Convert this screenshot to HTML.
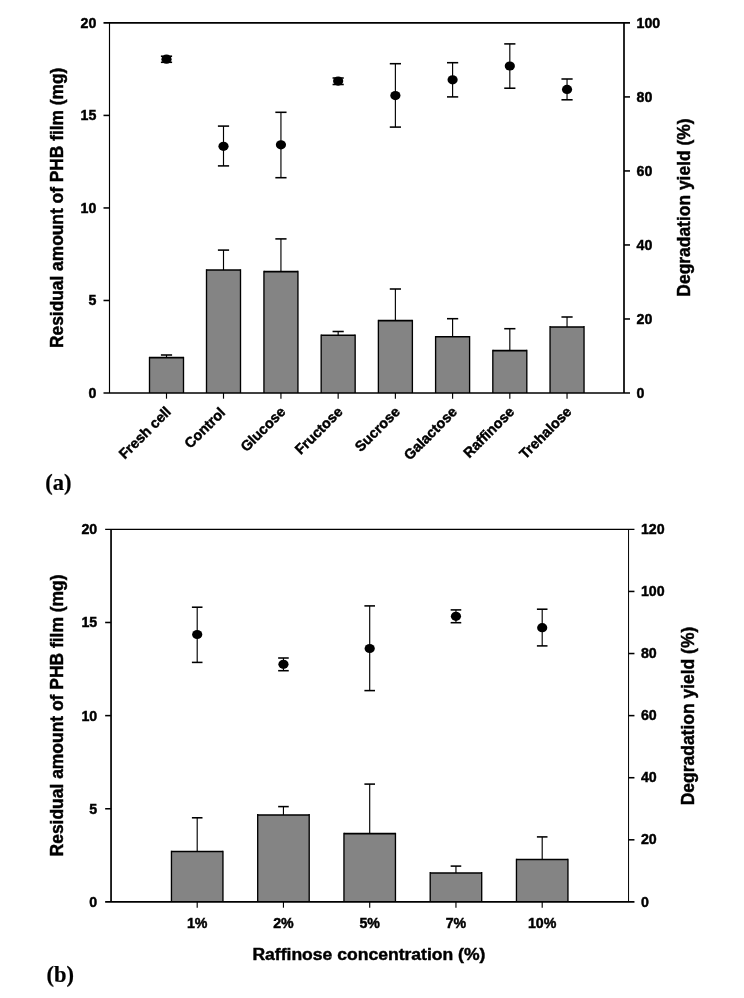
<!DOCTYPE html>
<html><head><meta charset="utf-8"><title>Figure</title>
<style>html,body{margin:0;padding:0;background:#fff}svg{display:block}</style>
</head><body>
<svg width="744" height="998" viewBox="0 0 744 998">
<rect width="744" height="998" fill="#fff"/>
<line x1="166.50" y1="357.60" x2="166.50" y2="355.00" stroke="#000" stroke-width="1.15"/>
<line x1="160.90" y1="355.00" x2="172.10" y2="355.00" stroke="#000" stroke-width="1.55"/>
<rect x="149.50" y="357.60" width="34.00" height="35.40" fill="#848484"/>
<line x1="149.50" y1="356.83" x2="149.50" y2="393.00" stroke="#000" stroke-width="1.35"/>
<line x1="183.50" y1="356.83" x2="183.50" y2="393.00" stroke="#000" stroke-width="1.35"/>
<line x1="149.50" y1="357.60" x2="183.50" y2="357.60" stroke="#000" stroke-width="1.55"/>
<line x1="223.50" y1="270.00" x2="223.50" y2="250.10" stroke="#000" stroke-width="1.15"/>
<line x1="217.90" y1="250.10" x2="229.10" y2="250.10" stroke="#000" stroke-width="1.55"/>
<rect x="206.50" y="270.00" width="34.00" height="123.00" fill="#848484"/>
<line x1="206.50" y1="269.23" x2="206.50" y2="393.00" stroke="#000" stroke-width="1.35"/>
<line x1="240.50" y1="269.23" x2="240.50" y2="393.00" stroke="#000" stroke-width="1.35"/>
<line x1="206.50" y1="270.00" x2="240.50" y2="270.00" stroke="#000" stroke-width="1.55"/>
<line x1="280.94" y1="271.60" x2="280.94" y2="238.90" stroke="#000" stroke-width="1.15"/>
<line x1="275.34" y1="238.90" x2="286.54" y2="238.90" stroke="#000" stroke-width="1.55"/>
<rect x="263.94" y="271.60" width="34.00" height="121.40" fill="#848484"/>
<line x1="263.94" y1="270.83" x2="263.94" y2="393.00" stroke="#000" stroke-width="1.35"/>
<line x1="297.94" y1="270.83" x2="297.94" y2="393.00" stroke="#000" stroke-width="1.35"/>
<line x1="263.94" y1="271.60" x2="297.94" y2="271.60" stroke="#000" stroke-width="1.55"/>
<line x1="338.16" y1="335.30" x2="338.16" y2="331.50" stroke="#000" stroke-width="1.15"/>
<line x1="332.56" y1="331.50" x2="343.76" y2="331.50" stroke="#000" stroke-width="1.55"/>
<rect x="321.16" y="335.30" width="34.00" height="57.70" fill="#848484"/>
<line x1="321.16" y1="334.53" x2="321.16" y2="393.00" stroke="#000" stroke-width="1.35"/>
<line x1="355.16" y1="334.53" x2="355.16" y2="393.00" stroke="#000" stroke-width="1.35"/>
<line x1="321.16" y1="335.30" x2="355.16" y2="335.30" stroke="#000" stroke-width="1.55"/>
<line x1="395.38" y1="320.60" x2="395.38" y2="289.00" stroke="#000" stroke-width="1.15"/>
<line x1="389.78" y1="289.00" x2="400.98" y2="289.00" stroke="#000" stroke-width="1.55"/>
<rect x="378.38" y="320.60" width="34.00" height="72.40" fill="#848484"/>
<line x1="378.38" y1="319.83" x2="378.38" y2="393.00" stroke="#000" stroke-width="1.35"/>
<line x1="412.38" y1="319.83" x2="412.38" y2="393.00" stroke="#000" stroke-width="1.35"/>
<line x1="378.38" y1="320.60" x2="412.38" y2="320.60" stroke="#000" stroke-width="1.55"/>
<line x1="452.60" y1="336.80" x2="452.60" y2="318.70" stroke="#000" stroke-width="1.15"/>
<line x1="447.00" y1="318.70" x2="458.20" y2="318.70" stroke="#000" stroke-width="1.55"/>
<rect x="435.60" y="336.80" width="34.00" height="56.20" fill="#848484"/>
<line x1="435.60" y1="336.03" x2="435.60" y2="393.00" stroke="#000" stroke-width="1.35"/>
<line x1="469.60" y1="336.03" x2="469.60" y2="393.00" stroke="#000" stroke-width="1.35"/>
<line x1="435.60" y1="336.80" x2="469.60" y2="336.80" stroke="#000" stroke-width="1.55"/>
<line x1="509.82" y1="350.60" x2="509.82" y2="328.70" stroke="#000" stroke-width="1.15"/>
<line x1="504.22" y1="328.70" x2="515.42" y2="328.70" stroke="#000" stroke-width="1.55"/>
<rect x="492.82" y="350.60" width="34.00" height="42.40" fill="#848484"/>
<line x1="492.82" y1="349.83" x2="492.82" y2="393.00" stroke="#000" stroke-width="1.35"/>
<line x1="526.82" y1="349.83" x2="526.82" y2="393.00" stroke="#000" stroke-width="1.35"/>
<line x1="492.82" y1="350.60" x2="526.82" y2="350.60" stroke="#000" stroke-width="1.55"/>
<line x1="567.04" y1="326.90" x2="567.04" y2="317.00" stroke="#000" stroke-width="1.15"/>
<line x1="561.44" y1="317.00" x2="572.64" y2="317.00" stroke="#000" stroke-width="1.55"/>
<rect x="550.04" y="326.90" width="34.00" height="66.10" fill="#848484"/>
<line x1="550.04" y1="326.12" x2="550.04" y2="393.00" stroke="#000" stroke-width="1.35"/>
<line x1="584.04" y1="326.12" x2="584.04" y2="393.00" stroke="#000" stroke-width="1.35"/>
<line x1="550.04" y1="326.90" x2="584.04" y2="326.90" stroke="#000" stroke-width="1.55"/>
<line x1="166.50" y1="56.20" x2="166.50" y2="62.30" stroke="#000" stroke-width="1.15"/>
<line x1="160.90" y1="56.20" x2="172.10" y2="56.20" stroke="#000" stroke-width="1.55"/>
<line x1="160.90" y1="62.30" x2="172.10" y2="62.30" stroke="#000" stroke-width="1.55"/>
<ellipse cx="166.50" cy="59.20" rx="5.1" ry="4.6" fill="#000"/>
<line x1="223.50" y1="126.10" x2="223.50" y2="165.90" stroke="#000" stroke-width="1.15"/>
<line x1="217.90" y1="126.10" x2="229.10" y2="126.10" stroke="#000" stroke-width="1.55"/>
<line x1="217.90" y1="165.90" x2="229.10" y2="165.90" stroke="#000" stroke-width="1.55"/>
<ellipse cx="223.50" cy="146.30" rx="5.1" ry="4.6" fill="#000"/>
<line x1="280.94" y1="112.30" x2="280.94" y2="177.70" stroke="#000" stroke-width="1.15"/>
<line x1="275.34" y1="112.30" x2="286.54" y2="112.30" stroke="#000" stroke-width="1.55"/>
<line x1="275.34" y1="177.70" x2="286.54" y2="177.70" stroke="#000" stroke-width="1.55"/>
<ellipse cx="280.94" cy="144.80" rx="5.1" ry="4.6" fill="#000"/>
<line x1="338.16" y1="78.00" x2="338.16" y2="84.50" stroke="#000" stroke-width="1.15"/>
<line x1="332.56" y1="78.00" x2="343.76" y2="78.00" stroke="#000" stroke-width="1.55"/>
<line x1="332.56" y1="84.50" x2="343.76" y2="84.50" stroke="#000" stroke-width="1.55"/>
<ellipse cx="338.16" cy="81.10" rx="5.1" ry="4.6" fill="#000"/>
<line x1="395.38" y1="63.70" x2="395.38" y2="127.10" stroke="#000" stroke-width="1.15"/>
<line x1="389.78" y1="63.70" x2="400.98" y2="63.70" stroke="#000" stroke-width="1.55"/>
<line x1="389.78" y1="127.10" x2="400.98" y2="127.10" stroke="#000" stroke-width="1.55"/>
<ellipse cx="395.38" cy="95.60" rx="5.1" ry="4.6" fill="#000"/>
<line x1="452.60" y1="62.70" x2="452.60" y2="96.90" stroke="#000" stroke-width="1.15"/>
<line x1="447.00" y1="62.70" x2="458.20" y2="62.70" stroke="#000" stroke-width="1.55"/>
<line x1="447.00" y1="96.90" x2="458.20" y2="96.90" stroke="#000" stroke-width="1.55"/>
<ellipse cx="452.60" cy="79.80" rx="5.1" ry="4.6" fill="#000"/>
<line x1="509.82" y1="43.90" x2="509.82" y2="88.20" stroke="#000" stroke-width="1.15"/>
<line x1="504.22" y1="43.90" x2="515.42" y2="43.90" stroke="#000" stroke-width="1.55"/>
<line x1="504.22" y1="88.20" x2="515.42" y2="88.20" stroke="#000" stroke-width="1.55"/>
<ellipse cx="509.82" cy="66.00" rx="5.1" ry="4.6" fill="#000"/>
<line x1="567.04" y1="79.00" x2="567.04" y2="99.80" stroke="#000" stroke-width="1.15"/>
<line x1="561.44" y1="79.00" x2="572.64" y2="79.00" stroke="#000" stroke-width="1.55"/>
<line x1="561.44" y1="99.80" x2="572.64" y2="99.80" stroke="#000" stroke-width="1.55"/>
<ellipse cx="567.04" cy="89.40" rx="5.1" ry="4.6" fill="#000"/>
<line x1="109.50" y1="22.90" x2="109.50" y2="393.00" stroke="#000" stroke-width="1.15"/>
<line x1="624.00" y1="22.90" x2="624.00" y2="393.00" stroke="#000" stroke-width="1.7"/>
<line x1="103.50" y1="22.90" x2="630.00" y2="22.90" stroke="#000" stroke-width="1.7"/>
<line x1="103.50" y1="393.00" x2="630.00" y2="393.00" stroke="#000" stroke-width="1.6"/>
<text x="96.40" y="397.65" font-size="14.2" font-weight="bold" text-anchor="end" stroke="#000" stroke-width="0.45" font-family='"Liberation Sans", Arial, sans-serif'>0</text>
<line x1="103.50" y1="300.48" x2="109.50" y2="300.48" stroke="#000" stroke-width="1.55"/>
<text x="96.40" y="305.12" font-size="14.2" font-weight="bold" text-anchor="end" stroke="#000" stroke-width="0.45" font-family='"Liberation Sans", Arial, sans-serif'>5</text>
<line x1="103.50" y1="207.95" x2="109.50" y2="207.95" stroke="#000" stroke-width="1.55"/>
<text x="96.40" y="212.60" font-size="14.2" font-weight="bold" text-anchor="end" stroke="#000" stroke-width="0.45" font-family='"Liberation Sans", Arial, sans-serif'>10</text>
<line x1="103.50" y1="115.42" x2="109.50" y2="115.42" stroke="#000" stroke-width="1.55"/>
<text x="96.40" y="120.07" font-size="14.2" font-weight="bold" text-anchor="end" stroke="#000" stroke-width="0.45" font-family='"Liberation Sans", Arial, sans-serif'>15</text>
<text x="96.40" y="27.55" font-size="14.2" font-weight="bold" text-anchor="end" stroke="#000" stroke-width="0.45" font-family='"Liberation Sans", Arial, sans-serif'>20</text>
<text x="636.50" y="397.60" font-size="14.2" font-weight="bold" text-anchor="start" stroke="#000" stroke-width="0.45" font-family='"Liberation Sans", Arial, sans-serif'>0</text>
<line x1="624.00" y1="318.98" x2="630.00" y2="318.98" stroke="#000" stroke-width="1.55"/>
<text x="636.50" y="323.58" font-size="14.2" font-weight="bold" text-anchor="start" stroke="#000" stroke-width="0.45" font-family='"Liberation Sans", Arial, sans-serif'>20</text>
<line x1="624.00" y1="244.96" x2="630.00" y2="244.96" stroke="#000" stroke-width="1.55"/>
<text x="636.50" y="249.56" font-size="14.2" font-weight="bold" text-anchor="start" stroke="#000" stroke-width="0.45" font-family='"Liberation Sans", Arial, sans-serif'>40</text>
<line x1="624.00" y1="170.94" x2="630.00" y2="170.94" stroke="#000" stroke-width="1.55"/>
<text x="636.50" y="175.54" font-size="14.2" font-weight="bold" text-anchor="start" stroke="#000" stroke-width="0.45" font-family='"Liberation Sans", Arial, sans-serif'>60</text>
<line x1="624.00" y1="96.92" x2="630.00" y2="96.92" stroke="#000" stroke-width="1.55"/>
<text x="636.50" y="101.52" font-size="14.2" font-weight="bold" text-anchor="start" stroke="#000" stroke-width="0.45" font-family='"Liberation Sans", Arial, sans-serif'>80</text>
<text x="636.50" y="27.50" font-size="14.2" font-weight="bold" text-anchor="start" stroke="#000" stroke-width="0.45" font-family='"Liberation Sans", Arial, sans-serif'>100</text>
<line x1="166.50" y1="393.00" x2="166.50" y2="398.70" stroke="#000" stroke-width="1.15"/>
<text x="171.90" y="412.60" font-size="14.3" font-weight="bold" text-anchor="end" stroke="#000" stroke-width="0.45" font-family='"Liberation Sans", Arial, sans-serif' transform="rotate(-45 171.90 412.60)">Fresh cell</text>
<line x1="223.50" y1="393.00" x2="223.50" y2="398.70" stroke="#000" stroke-width="1.15"/>
<text x="226.20" y="413.40" font-size="14.3" font-weight="bold" text-anchor="end" stroke="#000" stroke-width="0.45" font-family='"Liberation Sans", Arial, sans-serif' transform="rotate(-45 226.20 413.40)">Control</text>
<line x1="280.94" y1="393.00" x2="280.94" y2="398.70" stroke="#000" stroke-width="1.15"/>
<text x="286.34" y="412.60" font-size="14.3" font-weight="bold" text-anchor="end" stroke="#000" stroke-width="0.45" font-family='"Liberation Sans", Arial, sans-serif' transform="rotate(-45 286.34 412.60)">Glucose</text>
<line x1="338.16" y1="393.00" x2="338.16" y2="398.70" stroke="#000" stroke-width="1.15"/>
<text x="343.56" y="412.60" font-size="14.3" font-weight="bold" text-anchor="end" stroke="#000" stroke-width="0.45" font-family='"Liberation Sans", Arial, sans-serif' transform="rotate(-45 343.56 412.60)">Fructose</text>
<line x1="395.38" y1="393.00" x2="395.38" y2="398.70" stroke="#000" stroke-width="1.15"/>
<text x="400.78" y="412.60" font-size="14.3" font-weight="bold" text-anchor="end" stroke="#000" stroke-width="0.45" font-family='"Liberation Sans", Arial, sans-serif' transform="rotate(-45 400.78 412.60)">Sucrose</text>
<line x1="452.60" y1="393.00" x2="452.60" y2="398.70" stroke="#000" stroke-width="1.15"/>
<text x="458.00" y="412.60" font-size="14.3" font-weight="bold" text-anchor="end" stroke="#000" stroke-width="0.45" font-family='"Liberation Sans", Arial, sans-serif' transform="rotate(-45 458.00 412.60)">Galactose</text>
<line x1="509.82" y1="393.00" x2="509.82" y2="398.70" stroke="#000" stroke-width="1.15"/>
<text x="515.22" y="412.60" font-size="14.3" font-weight="bold" text-anchor="end" stroke="#000" stroke-width="0.45" font-family='"Liberation Sans", Arial, sans-serif' transform="rotate(-45 515.22 412.60)">Raffinose</text>
<line x1="567.04" y1="393.00" x2="567.04" y2="398.70" stroke="#000" stroke-width="1.15"/>
<text x="572.44" y="412.60" font-size="14.3" font-weight="bold" text-anchor="end" stroke="#000" stroke-width="0.45" font-family='"Liberation Sans", Arial, sans-serif' transform="rotate(-45 572.44 412.60)">Trehalose</text>
<text x="63.00" y="207.80" font-size="17.7" font-weight="bold" text-anchor="middle" stroke="#000" stroke-width="0.45" font-family='"Liberation Sans", Arial, sans-serif' transform="rotate(-90 63.00 207.80)" textLength="280.4" lengthAdjust="spacingAndGlyphs">Residual amount of PHB film (mg)</text>
<text x="689.80" y="207.50" font-size="17.7" font-weight="bold" text-anchor="middle" stroke="#000" stroke-width="0.45" font-family='"Liberation Sans", Arial, sans-serif' transform="rotate(-90 689.80 207.50)" textLength="178.3" lengthAdjust="spacingAndGlyphs">Degradation yield (%)</text>
<text x="45.20" y="489.80" font-size="22.5" font-weight="bold" text-anchor="start" stroke="#000" stroke-width="0.2" font-family='"Liberation Serif", "Times New Roman", serif'>(a)</text>
<line x1="197.20" y1="851.50" x2="197.20" y2="817.80" stroke="#000" stroke-width="1.15"/>
<line x1="191.90" y1="817.80" x2="202.50" y2="817.80" stroke="#000" stroke-width="1.55"/>
<rect x="171.45" y="851.50" width="51.50" height="50.40" fill="#848484"/>
<line x1="171.45" y1="850.73" x2="171.45" y2="901.90" stroke="#000" stroke-width="1.35"/>
<line x1="222.95" y1="850.73" x2="222.95" y2="901.90" stroke="#000" stroke-width="1.35"/>
<line x1="171.45" y1="851.50" x2="222.95" y2="851.50" stroke="#000" stroke-width="1.55"/>
<line x1="283.45" y1="814.90" x2="283.45" y2="806.60" stroke="#000" stroke-width="1.15"/>
<line x1="278.15" y1="806.60" x2="288.75" y2="806.60" stroke="#000" stroke-width="1.55"/>
<rect x="257.70" y="814.90" width="51.50" height="87.00" fill="#848484"/>
<line x1="257.70" y1="814.12" x2="257.70" y2="901.90" stroke="#000" stroke-width="1.35"/>
<line x1="309.20" y1="814.12" x2="309.20" y2="901.90" stroke="#000" stroke-width="1.35"/>
<line x1="257.70" y1="814.90" x2="309.20" y2="814.90" stroke="#000" stroke-width="1.55"/>
<line x1="369.70" y1="833.60" x2="369.70" y2="784.10" stroke="#000" stroke-width="1.15"/>
<line x1="364.40" y1="784.10" x2="375.00" y2="784.10" stroke="#000" stroke-width="1.55"/>
<rect x="343.95" y="833.60" width="51.50" height="68.30" fill="#848484"/>
<line x1="343.95" y1="832.83" x2="343.95" y2="901.90" stroke="#000" stroke-width="1.35"/>
<line x1="395.45" y1="832.83" x2="395.45" y2="901.90" stroke="#000" stroke-width="1.35"/>
<line x1="343.95" y1="833.60" x2="395.45" y2="833.60" stroke="#000" stroke-width="1.55"/>
<line x1="455.95" y1="872.90" x2="455.95" y2="866.10" stroke="#000" stroke-width="1.15"/>
<line x1="450.65" y1="866.10" x2="461.25" y2="866.10" stroke="#000" stroke-width="1.55"/>
<rect x="430.20" y="872.90" width="51.50" height="29.00" fill="#848484"/>
<line x1="430.20" y1="872.12" x2="430.20" y2="901.90" stroke="#000" stroke-width="1.35"/>
<line x1="481.70" y1="872.12" x2="481.70" y2="901.90" stroke="#000" stroke-width="1.35"/>
<line x1="430.20" y1="872.90" x2="481.70" y2="872.90" stroke="#000" stroke-width="1.55"/>
<line x1="542.20" y1="859.50" x2="542.20" y2="836.90" stroke="#000" stroke-width="1.15"/>
<line x1="536.90" y1="836.90" x2="547.50" y2="836.90" stroke="#000" stroke-width="1.55"/>
<rect x="516.45" y="859.50" width="51.50" height="42.40" fill="#848484"/>
<line x1="516.45" y1="858.73" x2="516.45" y2="901.90" stroke="#000" stroke-width="1.35"/>
<line x1="567.95" y1="858.73" x2="567.95" y2="901.90" stroke="#000" stroke-width="1.35"/>
<line x1="516.45" y1="859.50" x2="567.95" y2="859.50" stroke="#000" stroke-width="1.55"/>
<line x1="197.20" y1="607.20" x2="197.20" y2="662.40" stroke="#000" stroke-width="1.15"/>
<line x1="191.90" y1="607.20" x2="202.50" y2="607.20" stroke="#000" stroke-width="1.55"/>
<line x1="191.90" y1="662.40" x2="202.50" y2="662.40" stroke="#000" stroke-width="1.55"/>
<ellipse cx="197.20" cy="634.50" rx="5.1" ry="4.6" fill="#000"/>
<line x1="283.45" y1="658.00" x2="283.45" y2="670.70" stroke="#000" stroke-width="1.15"/>
<line x1="278.15" y1="658.00" x2="288.75" y2="658.00" stroke="#000" stroke-width="1.55"/>
<line x1="278.15" y1="670.70" x2="288.75" y2="670.70" stroke="#000" stroke-width="1.55"/>
<ellipse cx="283.45" cy="664.30" rx="5.1" ry="4.6" fill="#000"/>
<line x1="369.70" y1="605.90" x2="369.70" y2="690.60" stroke="#000" stroke-width="1.15"/>
<line x1="364.40" y1="605.90" x2="375.00" y2="605.90" stroke="#000" stroke-width="1.55"/>
<line x1="364.40" y1="690.60" x2="375.00" y2="690.60" stroke="#000" stroke-width="1.55"/>
<ellipse cx="369.70" cy="648.50" rx="5.1" ry="4.6" fill="#000"/>
<line x1="455.95" y1="609.90" x2="455.95" y2="622.70" stroke="#000" stroke-width="1.15"/>
<line x1="450.65" y1="609.90" x2="461.25" y2="609.90" stroke="#000" stroke-width="1.55"/>
<line x1="450.65" y1="622.70" x2="461.25" y2="622.70" stroke="#000" stroke-width="1.55"/>
<ellipse cx="455.95" cy="616.30" rx="5.1" ry="4.6" fill="#000"/>
<line x1="542.20" y1="609.20" x2="542.20" y2="645.90" stroke="#000" stroke-width="1.15"/>
<line x1="536.90" y1="609.20" x2="547.50" y2="609.20" stroke="#000" stroke-width="1.55"/>
<line x1="536.90" y1="645.90" x2="547.50" y2="645.90" stroke="#000" stroke-width="1.55"/>
<ellipse cx="542.20" cy="627.70" rx="5.1" ry="4.6" fill="#000"/>
<line x1="111.05" y1="529.35" x2="111.05" y2="901.90" stroke="#000" stroke-width="1.7"/>
<line x1="628.55" y1="529.35" x2="628.55" y2="901.90" stroke="#000" stroke-width="1.0"/>
<line x1="105.15" y1="529.35" x2="634.45" y2="529.35" stroke="#000" stroke-width="1.15"/>
<line x1="105.15" y1="901.90" x2="634.45" y2="901.90" stroke="#000" stroke-width="1.6"/>
<text x="97.20" y="906.90" font-size="14.2" font-weight="bold" text-anchor="end" stroke="#000" stroke-width="0.45" font-family='"Liberation Sans", Arial, sans-serif'>0</text>
<line x1="105.15" y1="808.76" x2="111.05" y2="808.76" stroke="#000" stroke-width="1.55"/>
<text x="97.20" y="813.76" font-size="14.2" font-weight="bold" text-anchor="end" stroke="#000" stroke-width="0.45" font-family='"Liberation Sans", Arial, sans-serif'>5</text>
<line x1="105.15" y1="715.62" x2="111.05" y2="715.62" stroke="#000" stroke-width="1.55"/>
<text x="97.20" y="720.62" font-size="14.2" font-weight="bold" text-anchor="end" stroke="#000" stroke-width="0.45" font-family='"Liberation Sans", Arial, sans-serif'>10</text>
<line x1="105.15" y1="622.49" x2="111.05" y2="622.49" stroke="#000" stroke-width="1.55"/>
<text x="97.20" y="627.49" font-size="14.2" font-weight="bold" text-anchor="end" stroke="#000" stroke-width="0.45" font-family='"Liberation Sans", Arial, sans-serif'>15</text>
<text x="97.20" y="534.35" font-size="14.2" font-weight="bold" text-anchor="end" stroke="#000" stroke-width="0.45" font-family='"Liberation Sans", Arial, sans-serif'>20</text>
<text x="640.90" y="906.55" font-size="14.2" font-weight="bold" text-anchor="start" stroke="#000" stroke-width="0.45" font-family='"Liberation Sans", Arial, sans-serif'>0</text>
<line x1="628.55" y1="839.81" x2="634.45" y2="839.81" stroke="#000" stroke-width="1.55"/>
<text x="640.90" y="844.46" font-size="14.2" font-weight="bold" text-anchor="start" stroke="#000" stroke-width="0.45" font-family='"Liberation Sans", Arial, sans-serif'>20</text>
<line x1="628.55" y1="777.72" x2="634.45" y2="777.72" stroke="#000" stroke-width="1.55"/>
<text x="640.90" y="782.37" font-size="14.2" font-weight="bold" text-anchor="start" stroke="#000" stroke-width="0.45" font-family='"Liberation Sans", Arial, sans-serif'>40</text>
<line x1="628.55" y1="715.62" x2="634.45" y2="715.62" stroke="#000" stroke-width="1.55"/>
<text x="640.90" y="720.27" font-size="14.2" font-weight="bold" text-anchor="start" stroke="#000" stroke-width="0.45" font-family='"Liberation Sans", Arial, sans-serif'>60</text>
<line x1="628.55" y1="653.53" x2="634.45" y2="653.53" stroke="#000" stroke-width="1.55"/>
<text x="640.90" y="658.18" font-size="14.2" font-weight="bold" text-anchor="start" stroke="#000" stroke-width="0.45" font-family='"Liberation Sans", Arial, sans-serif'>80</text>
<line x1="628.55" y1="591.44" x2="634.45" y2="591.44" stroke="#000" stroke-width="1.55"/>
<text x="640.90" y="596.09" font-size="14.2" font-weight="bold" text-anchor="start" stroke="#000" stroke-width="0.45" font-family='"Liberation Sans", Arial, sans-serif'>100</text>
<text x="640.90" y="534.00" font-size="14.2" font-weight="bold" text-anchor="start" stroke="#000" stroke-width="0.45" font-family='"Liberation Sans", Arial, sans-serif'>120</text>
<line x1="197.20" y1="901.90" x2="197.20" y2="907.70" stroke="#000" stroke-width="1.15"/>
<text x="197.20" y="928.10" font-size="14.2" font-weight="bold" text-anchor="middle" stroke="#000" stroke-width="0.45" font-family='"Liberation Sans", Arial, sans-serif'>1%</text>
<line x1="283.45" y1="901.90" x2="283.45" y2="907.70" stroke="#000" stroke-width="1.15"/>
<text x="283.45" y="928.10" font-size="14.2" font-weight="bold" text-anchor="middle" stroke="#000" stroke-width="0.45" font-family='"Liberation Sans", Arial, sans-serif'>2%</text>
<line x1="369.70" y1="901.90" x2="369.70" y2="907.70" stroke="#000" stroke-width="1.15"/>
<text x="369.70" y="928.10" font-size="14.2" font-weight="bold" text-anchor="middle" stroke="#000" stroke-width="0.45" font-family='"Liberation Sans", Arial, sans-serif'>5%</text>
<line x1="455.95" y1="901.90" x2="455.95" y2="907.70" stroke="#000" stroke-width="1.15"/>
<text x="455.95" y="928.10" font-size="14.2" font-weight="bold" text-anchor="middle" stroke="#000" stroke-width="0.45" font-family='"Liberation Sans", Arial, sans-serif'>7%</text>
<line x1="542.20" y1="901.90" x2="542.20" y2="907.70" stroke="#000" stroke-width="1.15"/>
<text x="542.20" y="928.10" font-size="14.2" font-weight="bold" text-anchor="middle" stroke="#000" stroke-width="0.45" font-family='"Liberation Sans", Arial, sans-serif'>10%</text>
<text x="63.00" y="715.40" font-size="17.7" font-weight="bold" text-anchor="middle" stroke="#000" stroke-width="0.45" font-family='"Liberation Sans", Arial, sans-serif' transform="rotate(-90 63.00 715.40)" textLength="282" lengthAdjust="spacingAndGlyphs">Residual amount of PHB film (mg)</text>
<text x="694.30" y="716.00" font-size="17.7" font-weight="bold" text-anchor="middle" stroke="#000" stroke-width="0.45" font-family='"Liberation Sans", Arial, sans-serif' transform="rotate(-90 694.30 716.00)" textLength="178.5" lengthAdjust="spacingAndGlyphs">Degradation yield (%)</text>
<text x="368.90" y="959.70" font-size="17.4" font-weight="bold" text-anchor="middle" stroke="#000" stroke-width="0.45" font-family='"Liberation Sans", Arial, sans-serif' textLength="233" lengthAdjust="spacingAndGlyphs">Raffinose concentration (%)</text>
<text x="46.60" y="982.20" font-size="22.5" font-weight="bold" text-anchor="start" stroke="#000" stroke-width="0.2" font-family='"Liberation Serif", "Times New Roman", serif'>(b)</text>
</svg>
</body></html>
